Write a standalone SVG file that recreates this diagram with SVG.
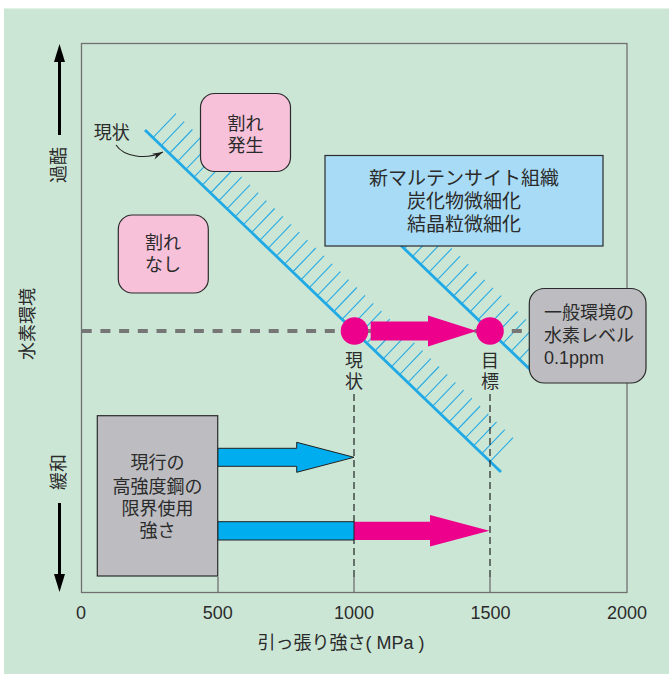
<svg xmlns="http://www.w3.org/2000/svg" width="669" height="674" viewBox="0 0 669 674">
<defs>
<style>
.t{font-family:"Liberation Sans","Noto Sans CJK JP",sans-serif;font-size:18px;fill:#2b2b2b}
.c{text-anchor:middle;dominant-baseline:central}
.l{dominant-baseline:central}
.box{stroke:#2b2b2b;stroke-width:1.2}
.pink{fill:#f7c1da}
.gray{fill:#bdbdc1}
.bnd{fill:none;stroke:#1fa9e5;stroke-width:2.8}
.hatch{fill:none;stroke:#29abe2;stroke-width:1.1}
.vd{stroke:#222;stroke-width:1.2;stroke-dasharray:7 4}
.tick{stroke:#707070;stroke-width:1.3}
</style>
<marker id="ah" viewBox="0 0 10 6" refX="10" refY="3" markerWidth="11" markerHeight="6.5" markerUnits="userSpaceOnUse" orient="auto">
<path d="M0,0 L10,3 L0,6 L3,3 z" fill="#222"/>
</marker>
</defs>
<rect x="4" y="8.5" width="665" height="666" fill="#cce6d6"/>
<g id="axes">
<rect x="81.5" y="43.5" width="545.5" height="549" fill="none" stroke="#707070" stroke-width="1.3"/>
<line class="tick" x1="218" y1="577" x2="218" y2="592.5"/>
<line class="tick" x1="354" y1="577" x2="354" y2="592.5"/>
<line class="tick" x1="490" y1="577" x2="490" y2="592.5"/>
<text class="t c" x="81" y="613">0</text>
<text class="t c" x="217.7" y="613">500</text>
<text class="t c" x="354" y="613">1000</text>
<text class="t c" x="490.5" y="613">1500</text>
<text class="t c" x="627" y="613">2000</text>
<text class="t c" x="341" y="643">引っ張り強さ( MPa )</text>
<line x1="59.5" y1="135" x2="59.5" y2="58" stroke="#000" stroke-width="3"/>
<polygon points="59.5,44 65,62 54,62" fill="#000"/>
<line x1="59.5" y1="503" x2="59.5" y2="578" stroke="#000" stroke-width="3"/>
<polygon points="59.5,592 65,574 54,574" fill="#000"/>
<text class="t c" transform="translate(58.5,165) rotate(-90)">過酷</text>
<text class="t c" transform="translate(28,324) rotate(-90)">水素環境</text>
<text class="t c" transform="translate(59,472) rotate(-90)">緩和</text>
</g>
<g id="boundary-current">
<line class="bnd" x1="145" y1="130" x2="501" y2="472"/>
<path class="hatch" d="M153,137.7l23,-24m-14.78,31.9l23,-24m-14.78,31.9l23,-24m-14.78,31.9l23,-24m-14.78,31.9l23,-24m-14.78,31.9l23,-24m-14.78,31.9l23,-24m-14.78,31.9l23,-24m-14.78,31.9l23,-24m-14.78,31.9l23,-24m-14.78,31.9l23,-24m-14.78,31.9l23,-24m-14.78,31.9l23,-24m-14.78,31.9l23,-24m-14.78,31.9l23,-24m-14.78,31.9l23,-24m-14.78,31.9l23,-24m-14.78,31.9l23,-24m-14.78,31.9l23,-24m-14.78,31.9l23,-24m-14.78,31.9l23,-24m-14.78,31.9l23,-24m-14.78,31.9l23,-24m-14.78,31.9l23,-24m-14.78,31.9l23,-24m-14.78,31.9l23,-24m-14.78,31.9l23,-24m-14.78,31.9l23,-24m-14.78,31.9l23,-24m-14.78,31.9l23,-24m-14.78,31.9l23,-24m-14.78,31.9l23,-24m-14.78,31.9l23,-24m-14.78,31.9l23,-24m-14.78,31.9l23,-24m-14.78,31.9l23,-24m-14.78,31.9l23,-24m-14.78,31.9l23,-24m-14.78,31.9l23,-24m-14.78,31.9l23,-24m-14.78,31.9l23,-24m-14.78,31.9l23,-24"/>
</g>
<g id="boundary-target">
<line class="bnd" x1="395" y1="239.7" x2="536" y2="375.2"/>
<path class="hatch" d="M396,240.7l23,-24m-14.78,31.9l23,-24m-14.78,31.9l23,-24m-14.78,31.9l23,-24m-14.78,31.9l23,-24m-14.78,31.9l23,-24m-14.78,31.9l23,-24m-14.78,31.9l23,-24m-14.78,31.9l23,-24m-14.78,31.9l23,-24m-14.78,31.9l23,-24m-14.78,31.9l23,-24m-14.78,31.9l23,-24m-14.78,31.9l23,-24m-14.78,31.9l23,-24m-14.78,31.9l23,-24m-14.78,31.9l23,-24m-14.78,31.9l23,-24"/>
</g>
<g id="connectors">
<line x1="81.7" y1="331" x2="522" y2="331" stroke="#767676" stroke-width="4" stroke-dasharray="10 8.7"/>
<line class="vd" x1="354" y1="394" x2="354" y2="577"/>
<line class="vd" x1="490" y1="394" x2="490" y2="577"/>
<path d="M116,145 C124,157 146,160 163,152" fill="none" stroke="#222" stroke-width="1.1" marker-end="url(#ah)"/>
<polygon points="370.7,321.5 428,321.5 428,315.5 476.7,331 428,346.5 428,340.5 370.7,340.5" fill="#ec008c"/>
<polygon points="217.7,448.3 296.7,448.3 296.7,442.3 354,457.3 296.7,472.3 296.7,466.3 217.7,466.3" fill="#00aeef" stroke="#222" stroke-width="1"/>
<polygon points="354,521.7 430,521.7 430,515 489.3,530.8 430,546.6 430,540 354,540" fill="#ec008c"/>
<rect x="217.7" y="521.7" width="136.3" height="18.3" fill="#00aeef" stroke="#222" stroke-width="1"/>
</g>
<g id="node-crack">
<rect class="box pink" x="200.5" y="93.5" width="90" height="78" rx="14"/>
<text class="t c" x="245.5" y="124">割れ</text>
<text class="t c" x="245.5" y="145.5">発生</text>
</g>
<g id="node-nocrack">
<rect class="box pink" x="118.3" y="215" width="90" height="78" rx="14"/>
<text class="t c" x="163" y="242.5">割れ</text>
<text class="t c" x="163" y="265">なし</text>
</g>
<g id="node-label-current">
<text class="t c" x="111.7" y="132.5">現状</text>
</g>
<g id="node-method">
<rect class="box" x="325" y="155.5" width="278" height="90.5" fill="#a8dcf6"/>
<text class="t c" x="464" y="178.4" style="font-size:19px">新マルテンサイト組織</text>
<text class="t c" x="464" y="201.5" style="font-size:19px">炭化物微細化</text>
<text class="t c" x="464" y="224.4" style="font-size:19px">結晶粒微細化</text>
</g>
<g id="node-hydrogen">
<rect class="box gray" x="529.3" y="288.5" width="116.7" height="94.5" rx="15"/>
<text class="t l" x="544" y="313">一般環境の</text>
<text class="t l" x="544" y="336">水素レベル</text>
<text class="t l" x="544" y="358.3">0.1ppm</text>
</g>
<g id="node-current">
<circle cx="354.5" cy="331" r="13.8" fill="#ec008c"/>
<text class="t c" x="354" y="360.5">現</text>
<text class="t c" x="354" y="382">状</text>
</g>
<g id="node-target">
<circle cx="490" cy="331" r="13.8" fill="#ec008c"/>
<text class="t c" x="490" y="360.5">目</text>
<text class="t c" x="490" y="382">標</text>
</g>
<g id="node-limit">
<rect class="box gray" x="97.3" y="415.7" width="120.4" height="160.3"/>
<text class="t c" x="157.5" y="463.3">現行の</text>
<text class="t c" x="157.5" y="486.5">高強度鋼の</text>
<text class="t c" x="157.5" y="508.5">限界使用</text>
<text class="t c" x="157.5" y="530.7">強さ</text>
</g>
</svg>
